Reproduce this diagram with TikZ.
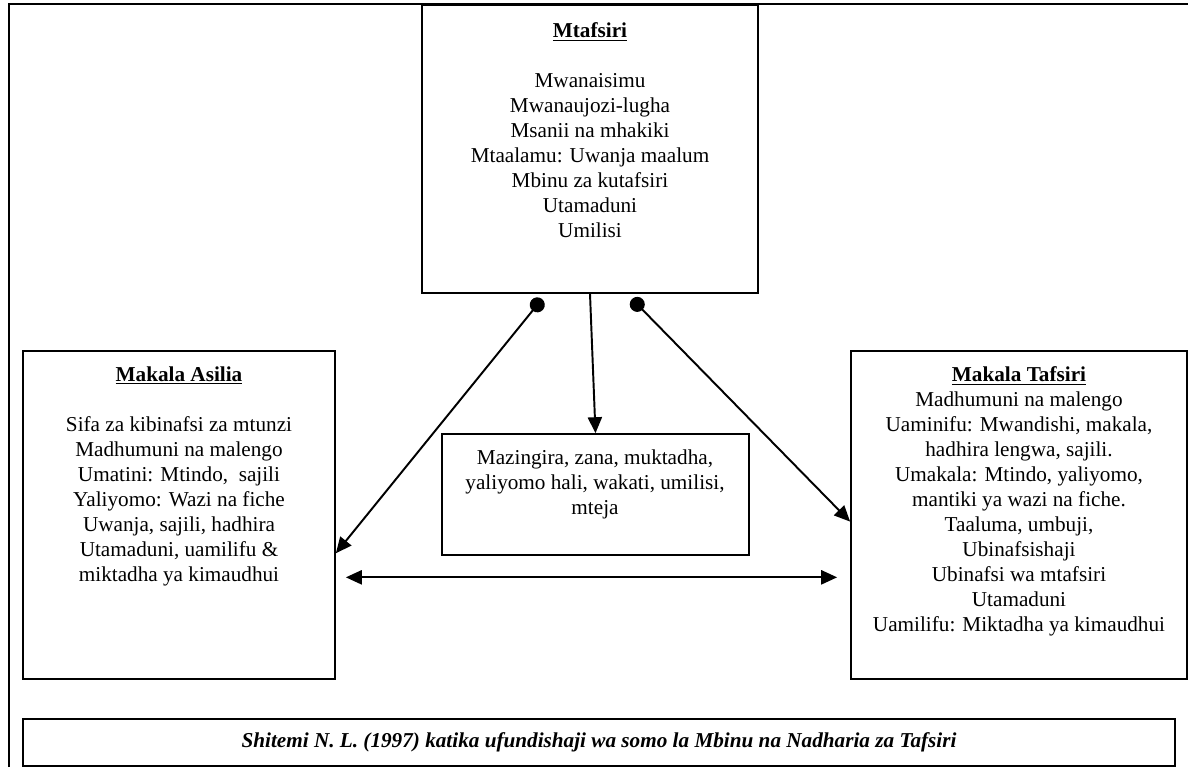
\documentclass[tikz,border=0pt]{standalone}
\usepackage{fontspec}
\setmainfont{Liberation Serif}
\usetikzlibrary{arrows.meta,fit,calc,positioning}

\begin{document}
\begin{tikzpicture}[x=0.566pt,y=-0.566pt,
  every node/.style={font=\fontsize{12}{14.15}\selectfont},
  box/.style={draw,line width=1pt,inner sep=0pt},
  txt/.style={align=center,inner sep=0pt,anchor=north},
  link/.style={line width=1.1pt}]
\def\alen{9pt}
\def\awid{8pt}
\def\dsz{8.5pt}
\useasboundingbox (0,0) rectangle (1188,767);
% outer frame
\draw[line width=1.3pt] (9,767) -- (9,4) -- (1188,4);
% boxes
\node [box, fit={(422,5)(758,293)},   name=mtafsiri] {};
\node [box, fit={(23,351)(335,679)},  name=asilia]   {};
\node [box, fit={(851,351)(1187,679)},name=tafsiri]  {};
\node [box, fit={(442,434)(749,555)}, name=mazingira]{};
\node [box, fit={(23,719)(1175,766)}, name=chanzo]   {};
% texts
\node [txt, name=mtafsiriT] at (590,22) {\textbf{\underline{Mtafsiri}}\\[14.15pt]
  Mwanaisimu\\ Mwanaujozi-lugha\\ Msanii na mhakiki\\ Mtaalamu: Uwanja maalum\\
  Mbinu za kutafsiri\\ Utamaduni\\ Umilisi};
\node [txt, name=asiliaT] at (179,366) {\textbf{\underline{Makala Asilia}}\\[14.15pt]
  Sifa za kibinafsi za mtunzi\\ Madhumuni na malengo\\ Umatini: Mtindo,\ \ sajili\\
  Yaliyomo: Wazi na fiche\\ Uwanja, sajili, hadhira\\ Utamaduni, uamilifu \&\\
  miktadha ya kimaudhui};
\node [txt, name=tafsiriT] at (1019,366) {\textbf{\underline{Makala Tafsiri}}\\
  Madhumuni na malengo\\ Uaminifu: Mwandishi, makala,\\ hadhira lengwa, sajili.\\
  Umakala: Mtindo, yaliyomo,\\ mantiki ya wazi na fiche.\\ Taaluma, umbuji,\\
  Ubinafsishaji\\ Ubinafsi wa mtafsiri\\ Utamaduni\\ Uamilifu: Miktadha ya kimaudhui};
\node [txt, name=mazingiraT] at (595,449) {Mazingira, zana, muktadha,\\
  yaliyomo hali, wakati, umilisi,\\ mteja};
\node [name=chanzoT, font=\fontsize{12}{14.15}\selectfont\bfseries\itshape] at (chanzo.center)
  {Shitemi N. L. (1997) katika ufundishaji wa somo la Mbinu na Nadharia za Tafsiri};
% connectors
\coordinate (dotL) at (542,299);
\coordinate (dotR) at (632,299);
\draw [link, {Circle[length=\dsz]}-{Triangle[length=\alen, width=\awid]}] (dotL) -- ($(asilia.north east)!0.616!(asilia.south east)$);
\draw [link, {Circle[length=\dsz]}-{Triangle[length=\alen, width=\awid]}] (dotR) -- ($(tafsiri.north west)!0.52!(tafsiri.south west)$);
\draw [link, -{Triangle[length=\alen, width=\awid]}] (mtafsiri.south) -- (mazingira.north);
\draw [link, {Triangle[length=\alen, width=\awid]}-{Triangle[length=\alen, width=\awid]}]
  ($(asilia.north east)!0.689!(asilia.south east)+(10,0)$) -- ($(tafsiri.north west)!0.689!(tafsiri.south west)+(-13,0)$);
\end{tikzpicture}
\end{document}
